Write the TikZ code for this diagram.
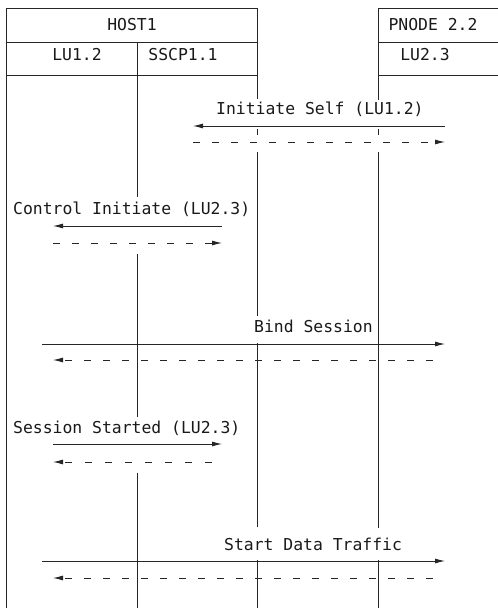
\documentclass[tikz,border=0pt]{standalone}
\usepackage{fontspec}
\setmonofont{DejaVu Sans Mono}
\usetikzlibrary{arrows.meta}
\begin{document}
\begin{tikzpicture}[x=1pt,y=-1pt,
  ln/.style={line width=0.9pt,draw=black!85},
  lbl/.style={font=\ttfamily\fontsize{16.4}{18}\selectfont,text=black!90,inner sep=0pt,anchor=base west},
  hdr/.style={font=\ttfamily\fontsize{16.4}{18}\selectfont,text=black!90,inner sep=0pt,anchor=base},
  msg/.style={line width=0.9pt,draw=black!85,-{Latex[length=10pt,width=5pt]}},
  rsp/.style={msg,dash pattern=on 7pt off 12pt}]
\useasboundingbox (0,0) rectangle (498,608);
% header boxes
\draw[ln] (6,608) -- (6,8) -- (257,8) -- (257,99);
\draw[ln] (6,42) -- (257,42);
\draw[ln] (6,75) -- (257,75);
\draw[ln] (498,8) -- (378,8) -- (378,100);
\draw[ln] (378,42) -- (498,42);
\draw[ln] (378,75) -- (498,75);
% lifelines with gaps
\draw[ln] (137,42) -- (137,197);
\draw[ln] (137,254) -- (137,417);
\draw[ln] (137,473) -- (137,608);
\draw[ln] (257,129) -- (257,135);
\draw[ln] (257,152) -- (257,316);
\draw[ln] (257,343) -- (257,527);
\draw[ln] (257,560) -- (257,608);
\draw[ln] (378,129) -- (378,135);
\draw[ln] (378,152) -- (378,528);
\draw[ln] (378,560) -- (378,608);
% header texts
\node[hdr] (host) at (132,30) {HOST1};
\node[hdr] (lu12) at (77,60) {LU1.2};
\node[hdr] (sscp) at (183,60) {SSCP1.1};
\node[hdr] (pnode) at (433,30) {PNODE 2.2};
\node[hdr] (lu23) at (425,60) {LU2.3};
% message labels
\node[lbl] (tIS) at (216,114) {Initiate Self (LU1.2)};
\node[lbl] (tCI) at (13,214) {Control Initiate (LU2.3)};
\node[lbl] (tBS) at (254,332) {Bind Session};
\node[lbl] (tSS) at (13,433) {Session Started (LU2.3)};
\node[lbl] (tSD) at (224,550) {Start Data Traffic};
% message end points
\coordinate (a1) at (445,126); \coordinate (b1) at (193,126);
\coordinate (a2) at (193,142); \coordinate (b2) at (445,142);
\coordinate (a3) at (222,226); \coordinate (b3) at (53,226);
\coordinate (a4) at (53,243);  \coordinate (b4) at (222,243);
\coordinate (a5) at (42,344);  \coordinate (b5) at (445,344);
\coordinate (a6) at (433,360); \coordinate (b6) at (53,360);
\coordinate (a7) at (53,444);  \coordinate (b7) at (222,444);
\coordinate (a8) at (212,462); \coordinate (b8) at (53,462);
\coordinate (a9) at (42,561);  \coordinate (b9) at (445,561);
\coordinate (a10) at (433,578); \coordinate (b10) at (53,578);
\draw[msg] (a1) -- (b1);
\draw[rsp] (a2) -- (b2);
\draw[msg] (a3) -- (b3);
\draw[rsp] (a4) -- (b4);
\draw[msg] (a5) -- (b5);
\draw[rsp] (a6) -- (b6);
\draw[msg] (a7) -- (b7);
\draw[rsp,dash pattern=on 7pt off 13pt] (a8) -- (b8);
\draw[msg] (a9) -- (b9);
\draw[rsp] (a10) -- (b10);
\end{tikzpicture}
\end{document}
